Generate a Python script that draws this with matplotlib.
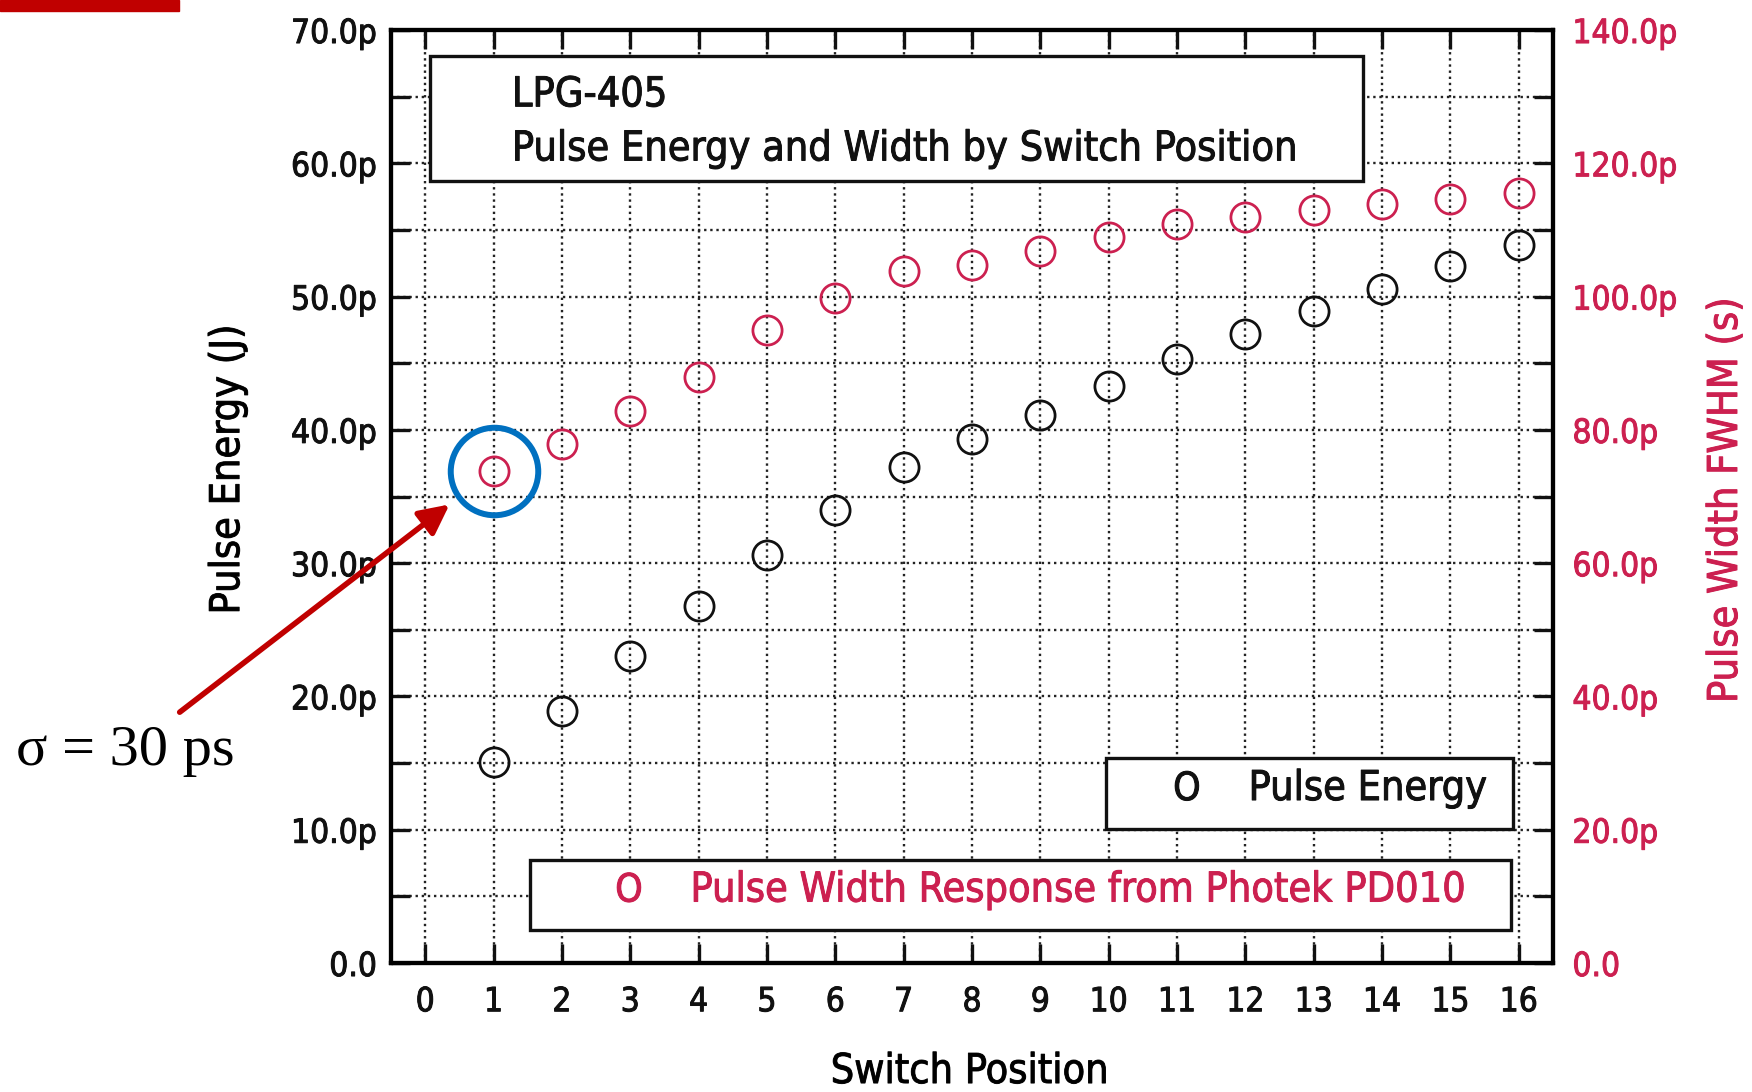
import numpy as np
import matplotlib
matplotlib.use('Agg')
import matplotlib.pyplot as plt
import matplotlib.patheffects as pe
from matplotlib.patches import Rectangle
from matplotlib.ticker import MultipleLocator, FuncFormatter

positions = np.arange(1, 17)
pulse_energy = [15.1, 18.9, 23.0, 26.8, 30.6, 34.0, 37.2, 39.3,
                41.1, 43.3, 45.3, 47.2, 48.9, 50.6, 52.3, 53.9]   # pJ
pulse_width = [73.9, 77.9, 82.8, 88.0, 95.0, 99.8, 103.8, 104.8,
               106.9, 109.0, 110.9, 111.9, 113.0, 113.9, 114.7, 115.6]  # ps

x_ticks = list(range(0, 17))
energy_ticks = [0, 10, 20, 30, 40, 50, 60, 70]
width_ticks = [0, 20, 40, 60, 80, 100, 120, 140]

RED = '#cc2050'
DARK = '#111111'
LABEL_SIZE = 29.6
TICK_SIZE = 24

plt.rcParams['font.stretch'] = 'condensed'


def p_label(v, _):
    # gnuplot style engineering labels: 0.0, 10.0p, ...
    return '0.0' if v == 0 else f'{v:.1f}p'


def heavy(color):
    # scanned text looks a bit heavier than the plain font
    return [pe.withStroke(linewidth=0.7, foreground=color)]


fig = plt.figure(figsize=(17.52, 10.92), dpi=100)
ax = fig.add_axes([0.2232, 0.1181, 0.6632, 0.8544])
ax2 = ax.twinx()

# left axis: pulse energy
ax.plot(positions, pulse_energy, 'o', ms=21, mfc='none', mec=DARK, mew=2, zorder=3)
ax.set_xlim(-0.5, 16.5)
ax.set_ylim(energy_ticks[0], energy_ticks[-1])
ax.set_xticks(x_ticks)
ax.set_yticks(energy_ticks)
ax.yaxis.set_minor_locator(MultipleLocator(5))
ax.yaxis.set_major_formatter(FuncFormatter(p_label))
ax.grid(which='both', ls=(0, (1, 1.6)), color='#222222', lw=1.7)
ax.tick_params(which='both', direction='in', length=14, width=2.4, top=True,
               labelsize=TICK_SIZE, colors=DARK)
ax.tick_params(axis='y', pad=10)
ax.tick_params(axis='x', pad=16)
for s in ax.spines.values():
    s.set_linewidth(3)
ax.set_xlabel('Switch Position', fontsize=LABEL_SIZE, path_effects=heavy(DARK))
ax.xaxis.set_label_coords(0.498, -0.0954)
ax.set_ylabel('Pulse Energy (J)', fontsize=LABEL_SIZE, path_effects=heavy(DARK))
ax.yaxis.set_label_coords(-0.123, 0.529)

# right axis: pulse width
ax2.plot(positions, pulse_width, 'o', ms=21, mfc='none', mec=RED, mew=2, zorder=3)
ax2.set_ylim(width_ticks[0], width_ticks[-1])
ax2.set_yticks(width_ticks)
ax2.yaxis.set_minor_locator(MultipleLocator(10))
ax2.yaxis.set_major_formatter(FuncFormatter(p_label))
ax2.tick_params(which='both', direction='in', length=14, width=2.4,
                labelsize=TICK_SIZE, pad=14, colors=DARK, labelcolor=RED)
for s in ax2.spines.values():
    s.set_linewidth(3)
ax2.set_ylabel('Pulse Width FWHM (s)', fontsize=LABEL_SIZE, color=RED,
               path_effects=heavy(RED))
ax2.yaxis.set_label_coords(1.1317, 0.496)

for lbl in ax.get_xticklabels() + ax.get_yticklabels():
    lbl.set_path_effects(heavy(DARK))
for lbl in ax2.get_yticklabels():
    lbl.set_path_effects(heavy(RED))

# title box
ax2.add_patch(Rectangle((0.0336, 0.838), 0.8029, 0.134, transform=ax2.transAxes,
                        fc='white', ec=DARK, lw=2.4, zorder=5))
ax2.text(0.104, 0.930, 'LPG-405', transform=ax2.transAxes, fontsize=LABEL_SIZE,
         ha='left', va='center', color=DARK, zorder=6, path_effects=heavy(DARK))
ax2.text(0.104, 0.872, 'Pulse Energy and Width by Switch Position',
         transform=ax2.transAxes, fontsize=LABEL_SIZE, ha='left', va='center',
         color=DARK, zorder=6, path_effects=heavy(DARK))

# legend boxes
ax2.add_patch(Rectangle((0.615, 0.1436), 0.351, 0.0761, transform=ax2.transAxes,
                        fc='white', ec=DARK, lw=2.4, zorder=5))
ax2.text(0.685, 0.1865, 'O', transform=ax2.transAxes, fontsize=28,
         ha='center', va='center', color=DARK, zorder=6, path_effects=heavy(DARK))
ax2.text(0.738, 0.1865, 'Pulse Energy', transform=ax2.transAxes,
         fontsize=LABEL_SIZE, ha='left', va='center', color=DARK, zorder=6,
         path_effects=heavy(DARK))

ax2.add_patch(Rectangle((0.1196, 0.0354), 0.8442, 0.075, transform=ax2.transAxes,
                        fc='white', ec=DARK, lw=2.4, zorder=5))
ax2.text(0.2048, 0.0777, 'O', transform=ax2.transAxes, fontsize=28,
         ha='center', va='center', color=RED, zorder=6, path_effects=heavy(RED))
ax2.text(0.2577, 0.0777, 'Pulse Width Response from Photek PD010',
         transform=ax2.transAxes, fontsize=LABEL_SIZE, ha='left', va='center',
         color=RED, zorder=6, path_effects=heavy(RED))

# highlight of the first width point
ax2.plot(positions[0], pulse_width[0], 'o', ms=63, mfc='none', mec='#0070c0',
         mew=4.3, zorder=7, clip_on=False)
ax2.annotate('', xy=(positions[0], pulse_width[0]), xytext=(-226, -174),
             textcoords='offset points', annotation_clip=False,
             arrowprops=dict(arrowstyle='-|>', color='#c00000', lw=4,
                             mutation_scale=45, shrinkA=0, shrinkB=40))
ax2.annotate('σ = 30 ps', xy=(positions[0], pulse_width[0]), xytext=(-265, -202),
             textcoords='offset points', ha='center', va='center',
             fontsize=42, family=['Liberation Serif', 'DejaVu Serif'],
             fontstretch='normal', color='black', annotation_clip=False)

# slide header remnant in the top-left corner
fig.add_artist(Rectangle((0, 1 - 11 / 1092), 179 / 1752, 11 / 1092,
                         transform=fig.transFigure, color='#c00000'))

fig.savefig('out.png', dpi=100)
